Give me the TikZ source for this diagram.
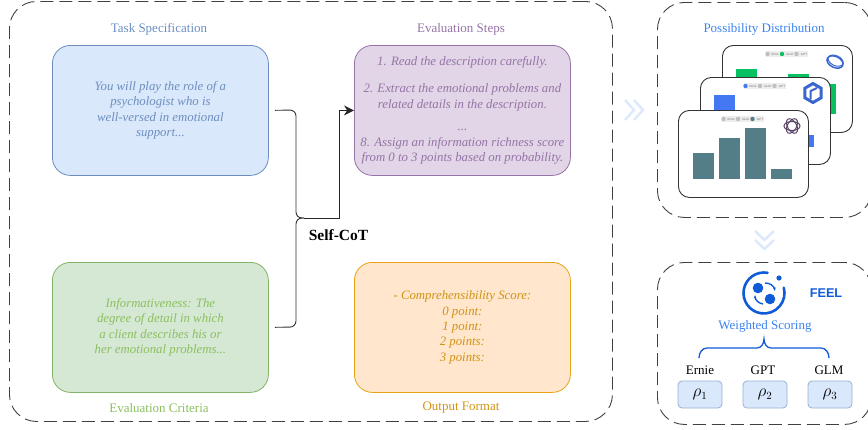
\documentclass[tikz,border=0pt]{standalone}
\usepackage{fontspec}
\setmainfont{Liberation Serif}
\setsansfont{Liberation Sans}
\usepackage{xcolor}
\usetikzlibrary{arrows.meta,shapes.geometric}
\definecolor{taskblue}{HTML}{DAE8FC}
\definecolor{taskline}{HTML}{6C8EBF}
\definecolor{stepfill}{HTML}{E1D5E7}
\definecolor{stepline}{HTML}{9673A6}
\definecolor{critfill}{HTML}{D5E8D4}
\definecolor{critline}{HTML}{82B366}
\definecolor{crittext}{HTML}{8CBF5F}
\definecolor{outfill}{HTML}{FFE6CC}
\definecolor{outline}{HTML}{E8A317}
\definecolor{feelblue}{HTML}{0F5BD8}
\definecolor{titleblue}{HTML}{3B82F0}
\definecolor{barteal}{HTML}{537D87}
\definecolor{bargreen}{HTML}{07C160}
\definecolor{barblue}{HTML}{4478F2}
\definecolor{chevron}{HTML}{DCE9FA}
\tikzset{
	panel/.style={draw=black!75, line width=0.9pt, dash pattern=on 13pt off 6pt, rounded corners=27pt,
		anchor=north west, inner sep=0pt},
	promptbox/.style={rounded corners=18pt, line width=0.8pt, anchor=north west, minimum width=216pt,
		minimum height=130pt, inner sep=0pt, align=center, font=\itshape\fontsize{12.8}{15.4}\selectfont},
	boxtitle/.style={font=\fontsize{13}{15}\selectfont},
	chartcard/.style={draw=black!80, fill=white, line width=0.9pt, rounded corners=11pt, anchor=north west,
		minimum width=130pt, minimum height=87pt, inner sep=0pt},
	legendpill/.style={fill=black!7, minimum width=42pt, minimum height=5.5pt, inner sep=0pt},
	legendtext/.style={font=\fontsize{3}{3}\selectfont\sffamily, text=black!55, inner sep=0pt},
	bracket/.style={draw=black!80, line width=0.9pt, rounded corners=6pt},
	chevronline/.style={draw=chevron, line width=2.4pt},
	modelname/.style={font=\fontsize{13}{15}\selectfont, inner sep=0pt},
	rhobox/.style={draw=taskline!70!white, fill=taskblue, line width=0.8pt, rounded corners=4pt,
		minimum width=44pt, minimum height=27pt, inner sep=0pt, font=\fontsize{16}{18}\selectfont},
}
% #1 name, #2 x, #3 y, #4 colour of the active dot, #5 which dot
\def\ChartCard#1#2#3#4#5{%
	\node[chartcard] (#1) at (#2,#3) {};
	\node[legendpill] (#1pill) at (#2+65,#3+9) {};
	\foreach \k/\lab in {0/Ernie,1/GLM,2/GPT}{
		\ifnum\k=#5\relax
			\fill[#4] (#2+45.5+14.5*\k,#3+9) circle (2.2pt);
		\else
			\fill[black!25] (#2+45.5+14.5*\k,#3+9) circle (2.2pt);
		\fi
		\node[legendtext] at (#2+53+14.5*\k,#3+9) {\lab};
	}
}
\begin{document}
\begin{tikzpicture}[x=1pt,y=-1pt]
\useasboundingbox (0,0) rectangle (868,429);
\clip (0,0) rectangle (868,429);
\node[panel, minimum width=603pt, minimum height=420pt] (mainpanel) at (9,1) {};
\node[panel, minimum width=214pt, minimum height=215pt] (distpanel) at (657,2) {};
\node[panel, minimum width=214pt, minimum height=162pt] (feelpanel) at (657,262) {};

% the four prompt boxes
\node[promptbox, draw=taskline, fill=taskblue, text=taskline] (taskbox) at (52,45)
	{You will play the role of a\\psychologist who is\\well-versed in emotional\\support...};
\node[promptbox, draw=stepline, fill=stepfill, text=stepline] (stepbox) at (354,45)
	{1. Read the description carefully.\\[12pt]2. Extract the emotional problems and\\related details in the description.\\[7pt]...\\8. Assign an information richness score\\from 0 to 3 points based on probability.};
\node[promptbox, draw=critline, fill=critfill, text=crittext] (critbox) at (52,262)
	{Informativeness: The\\degree of detail in which\\a client describes his or\\her emotional problems...};
\node[promptbox, draw=outline, fill=outfill, text=outline!90!black] (outbox) at (354,262)
	{- Comprehensibility Score:\\0 point:\\1 point:\\2 points:\\3 points:};
\node[boxtitle, text=taskline] (tasktitle) at (159,29) {Task Specification};
\node[boxtitle, text=stepline] (steptitle) at (461,29) {Evaluation Steps};
\node[boxtitle, text=crittext] (crittitle) at (159,408) {Evaluation Criteria};
\node[boxtitle, text=outline!90!black] (outtitle) at (461,408) {Output Format};

% Self-CoT connector
\coordinate (joint) at (304,218);
\coordinate (elbow) at (339,218);
\draw[bracket, shorten <=6pt] (taskbox.east) -- (296,110) -- (296,218) -- (joint);
\draw[bracket, shorten <=6pt] (critbox.east) -- (296,327) -- (296,218) -- (joint);
\draw[black!85, line width=0.9pt, -{Stealth[length=10pt,width=10pt]}] (joint) -- (elbow) -- (elbow |- stepbox.west) -- (stepbox.west);
\node[font=\bfseries\fontsize{15.5}{17}\selectfont] (selfcot) at (338.5,235) {Self-CoT};

% chevrons
\foreach \x in {625,634}
	\draw[chevronline] (\x,100) -- (\x+9,110) -- (\x,120);
\foreach \y in {231,240}
	\draw[chevronline] (755,\y) -- (764.5,\y+9) -- (774,\y);

\node[font=\fontsize{13}{15}\selectfont, text=titleblue] (disttitle) at (764,29) {Possibility Distribution};

% back card
\ChartCard{glmcard}{722}{45}{bargreen}{1}
\foreach \xa/\ya/\xb/\yb in {736/69/757/90,788/74/809/90,828/84/836/114}
	\fill[bargreen] (\xa,\ya) rectangle (\xb,\yb);
\draw[barblue!85!black, line width=1.5pt, rotate around={-25:(835,62)}] (835,62) ellipse (8.5pt and 5.5pt);
\draw[barblue!85!black, line width=1pt, rotate around={-25:(835,62)}] (835,60.5) ellipse (8pt and 5pt);

% middle card
\ChartCard{erniecard}{700}{77}{barblue}{0}
\fill[barblue] (714,95) rectangle (735,115);
\fill[barblue] (808,135) rectangle (814,147);
\node[regular polygon, regular polygon sides=6, shape border rotate=30, draw=barblue!85!black, line width=3pt, minimum size=19pt, inner sep=0pt] (erniehex) at (813,93) {};
\draw[barblue!85!black, line width=2pt] (810.5,99) -- (810.5,91) -- (817,88);

% front card
\ChartCard{gptcard}{678}{110}{barteal}{2}
\foreach \xa/\ya in {693/153,719/138,745/128,771/169}
	\fill[barteal] (\xa,\ya) rectangle (\xa+21,179);
\foreach \r in {0,60,120}
	\draw[stepline!60!black, line width=1pt, rotate around={\r:(792,126)}] (792,126) ellipse (8pt and 4.5pt);

% FEEL logo
\draw[feelblue, line width=2.6pt, line cap=round] (764,293) ++(80:20.5pt) arc (80:375:20.5pt);
\fill[feelblue] (779,278) circle (2.6pt);
\fill[feelblue] (758,288) circle (5.3pt);
\fill[feelblue] (770,299) circle (5.3pt);
\draw[feelblue, line width=1.4pt, -{Stealth[length=3.5pt]}] (765,283) to[bend left=40] (775,291);
\draw[feelblue, line width=1.4pt, -{Stealth[length=3.5pt]}] (763,304) to[bend left=40] (755,295);
\node[font=\sffamily\bfseries\fontsize{12.7}{14}\selectfont, text=feelblue] (feellabel) at (826,293) {FEEL};
\node[font=\fontsize{13}{15}\selectfont, text=titleblue] (scoring) at (765,326) {Weighted Scoring};

% brace over the three models
\node[modelname] (ernie) at (700,370) {Ernie};
\node[modelname] (gpt) at (763,370) {GPT};
\node[modelname] (glm) at (829,370) {GLM};
\draw[feelblue, line width=1.3pt] (699,358) to[out=90,in=180] (707,348) -- (757,348) to[out=0,in=-90] (764,339)
	to[out=-90,in=180] (771,348) -- (821,348) to[out=0,in=90] (829,358);
\node[rhobox] (rhoa) at (700,394.5) {$\rho_1$};
\node[rhobox] (rhob) at (765,394.5) {$\rho_2$};
\node[rhobox] (rhoc) at (830,394.5) {$\rho_3$};
\end{tikzpicture}
\end{document}
